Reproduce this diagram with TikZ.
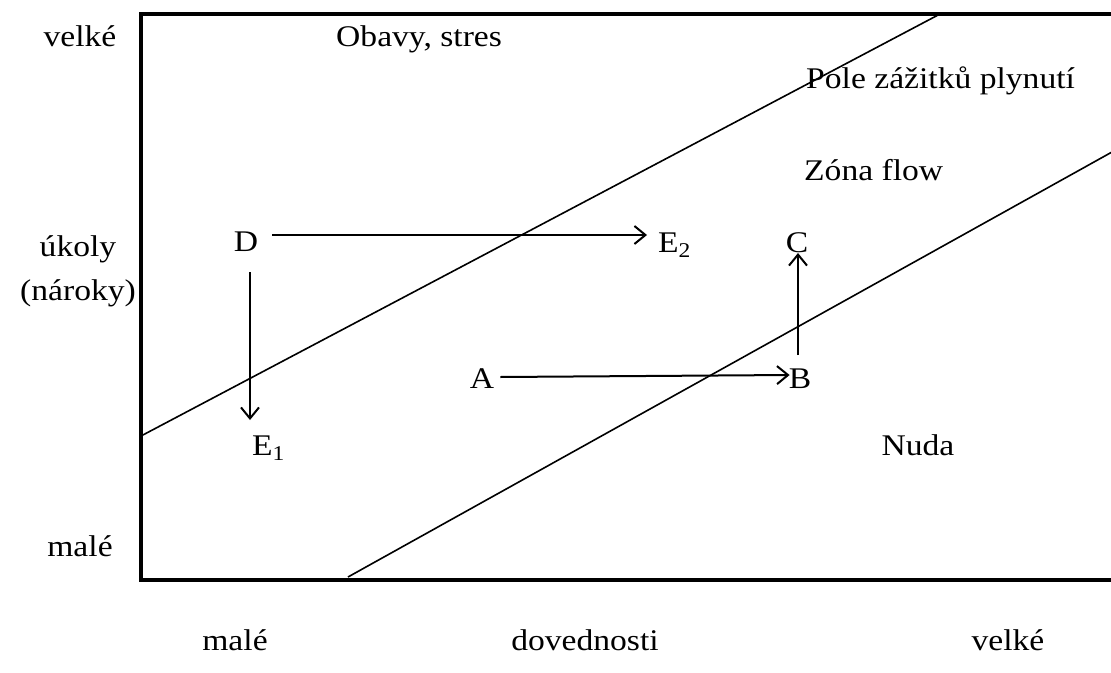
\documentclass[tikz,border=0pt]{standalone}
\usepackage{fontspec}
\setmainfont[FakeStretch=1.12]{Liberation Serif}
\usetikzlibrary{arrows.meta,calc}
\begin{document}
\begin{tikzpicture}[x=1pt,y=-1pt,
  lbl/.style={inner sep=0pt, anchor=base, font=\fontsize{30}{34}\selectfont},
  lblw/.style={lbl, anchor=base west},
  arr/.style={line width=2pt, -{Straight Barb[length=11pt,width=18pt,line width=2pt]}},
  frame/.style={line width=4.5pt, line join=miter},
  zone/.style={line width=1.6pt}]
\useasboundingbox (0,0) rectangle (1111,672);
\clip (0,0) rectangle (1111,672);
% frame
\draw[frame] (1130,14) -- (141,14) -- (141,580) -- (1130,580);
% zone boundaries
\coordinate (u1) at (141,436);
\coordinate (u2) at (940,14);
\coordinate (l1) at (348,577);
\coordinate (l2) at (1112,152);
\draw[zone] (u1) -- (u2);
\draw[zone] (l1) -- (l2);
% axis labels
\node[lbl] (yv) at (80,46) {velké};
\node[lbl] (yu) at (78,256) {úkoly};
\node[lbl] (yn) at (78,300) {(nároky)};
\node[lbl] (ym) at (80,556) {malé};
\node[lbl] (xm) at (235,650) {malé};
\node[lbl] (xd) at (585,650) {dovednosti};
\node[lbl] (xv) at (1008,650) {velké};
% zone labels
\node[lblw] (obavy) at (336,46) {Obavy, stres};
\node[lblw] (pole) at (806,88) {Pole zážitků plynutí};
\node[lblw] (zona) at (804,180) {Zóna flow};
\node[lbl] (nuda) at (918,455) {Nuda};
% points
\node[lbl] (D) at (246,251) {D};
\node[lblw] (E2) at (658,252) {E\textsubscript{2}};
\node[lbl] (C) at (797,252) {C};
\node[lbl] (A) at (482,388) {A};
\node[lbl] (B) at (800,388) {B};
\node[lblw] (E1) at (252,455) {E\textsubscript{1}};
% arrows
\draw[arr] ($(D.base east)+(14,-16)$) -- ($(E2.base west)+(-11,-17)$);
\draw[arr] ($(D.base)+(4,21)$) -- ($(E1.base west)+(-2,-35)$);
\draw[arr] ($(A.base east)+(6,-11)$) -- ($(B.base west)+(1,-13)$);
\draw[arr] ($(B.base)+(-2,-33)$) -- ($(C.base)+(1,1)$);
\end{tikzpicture}
\end{document}
